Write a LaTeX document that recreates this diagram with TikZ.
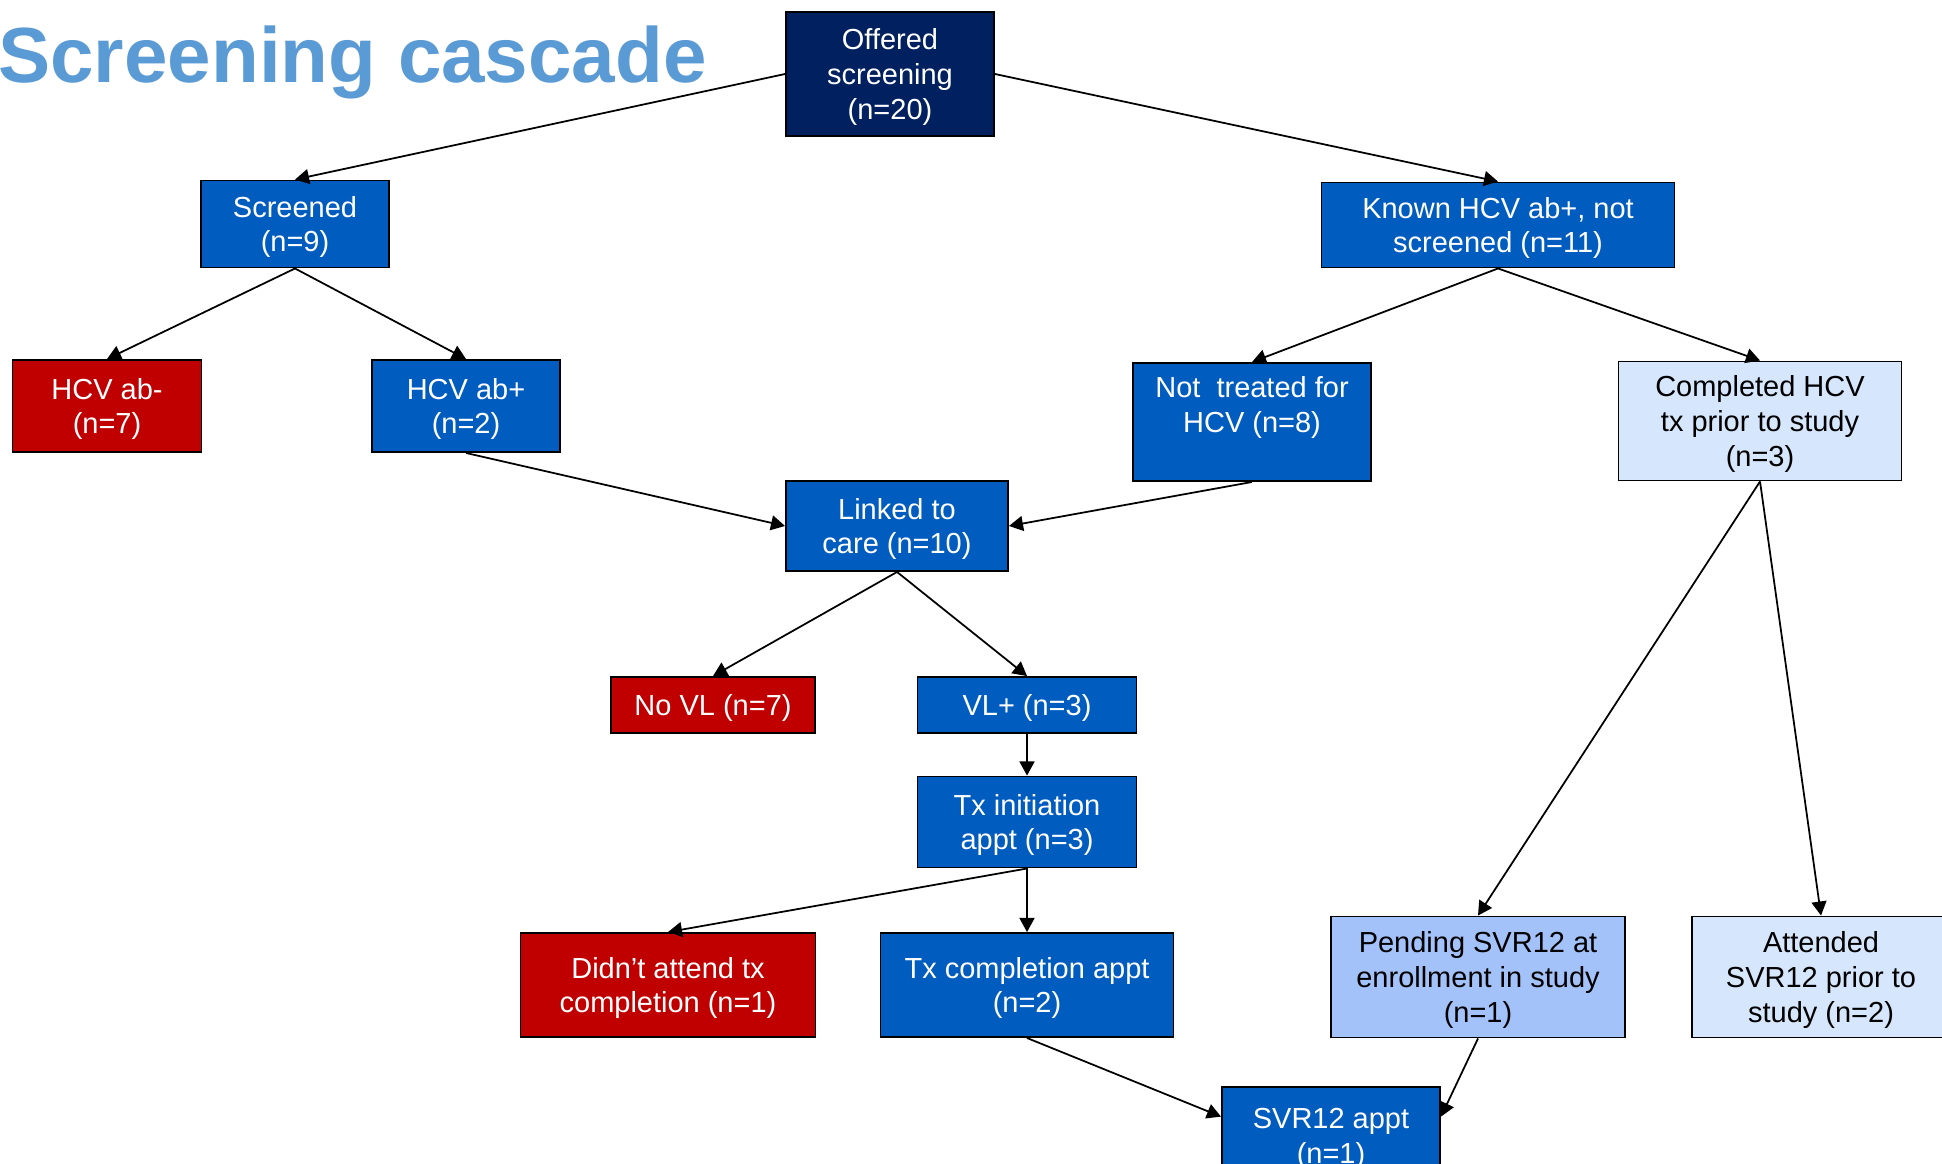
\documentclass[tikz,border=0pt]{standalone}
\usepackage{fontspec}
\setmainfont{Liberation Sans}
\usetikzlibrary{arrows.meta}

\definecolor{navybox}{RGB}{0,32,96}
\definecolor{bluebox}{RGB}{0,92,190}
\definecolor{redbox}{RGB}{192,0,0}
\definecolor{midbox}{RGB}{164,194,250}
\definecolor{palebox}{RGB}{214,230,252}
\definecolor{titleblue}{RGB}{91,155,213}

\tikzset{
  box/.style={draw=black, line width=1.1pt, rectangle, align=center, inner sep=0pt,
    font=\fontsize{16.5}{19.8}\selectfont, text depth=-6pt},
  wh/.style 2 args={minimum width=#1*0.02cm, minimum height=#2*0.02cm},
  navy/.style={box, fill=navybox, text=white},
  blue/.style={box, fill=bluebox, text=white},
  red/.style={box, fill=redbox, text=white},
  mid/.style={box, fill=midbox, text=black},
  pale/.style={box, fill=palebox, text=black},
  arr/.style={-{Triangle[length=8pt,width=8.5pt]}, line width=1pt},
}

\begin{document}
\begin{tikzpicture}[x=0.02cm, y=-0.02cm]
    \clip (0,0) rectangle (1942,1163);
    \fill[white] (0,0) rectangle (1942,1163);

    \node[anchor=base west, inner sep=0pt, text=titleblue,
      font=\fontsize{44.5}{50}\selectfont\bfseries] (title) at (-2,82) {Screening cascade};

    % top
    \node[navy, wh={208}{124}] (offered) at (890,74) {Offered\\screening\\(n=20)};
    \node[blue, wh={188}{87}] (screened) at (295,224) {Screened\\(n=9)};
    \node[blue, wh={353}{85}] (known) at (1498,225) {Known HCV ab+, not\\screened (n=11)};

    % second row
    \node[red, wh={189}{92}] (abneg) at (107,406) {HCV ab-\\(n=7)};
    \node[blue, wh={188}{92}] (abpos) at (466,406) {HCV ab+\\(n=2)};
    \node[blue, wh={238}{118}] (nottx) at (1252,422) {Not\ \ treated for\\HCV (n=8)\\\vphantom{()}};
    \node[pale, wh={283}{119}] (done) at (1760,421) {Completed HCV\\tx prior to study\\(n=3)};

    % middle
    \node[blue, wh={222}{90}] (linked) at (897,526) {Linked to\\care (n=10)};
    \node[red, wh={204}{56}] (novl) at (713,705) {No VL (n=7)};
    \node[blue, wh={219}{56}] (vlpos) at (1027,705) {VL+ (n=3)};
    \node[blue, wh={219}{91}] (txinit) at (1027,822) {Tx initiation\\appt (n=3)};

    % bottom
    \node[red, wh={295}{104}] (missed) at (668,985) {Didn’t attend tx\\completion (n=1)};
    \node[blue, wh={293}{104}] (txdone) at (1027,985) {Tx completion appt\\(n=2)};
    \node[mid, wh={294}{121}] (pending) at (1478,977) {Pending SVR12 at\\enrollment in study\\(n=1)};
    \node[pale, wh={258}{121}] (attended) at (1821,977) {Attended\\SVR12 prior to\\study (n=2)};
    \node[blue, wh={218}{98}] (svr) at (1331,1136) {SVR12 appt\\(n=1)};

    \draw[arr] (offered.west) -- (screened.north);
    \draw[arr] (offered.east) -- (known.north);
    \draw[arr] (screened.south) -- (abneg.north);
    \draw[arr] (screened.south) -- (abpos.north);
    \draw[arr] (known.south) -- (nottx.north);
    \draw[arr] (known.south) -- (done.north);
    \draw[arr] (abpos.south) -- (linked.west);
    \draw[arr] (nottx.south) -- (linked.east);
    \draw[arr] (linked.south) -- (novl.north);
    \draw[arr] (linked.south) -- (vlpos.north);
    \draw[arr] (vlpos.south) -- (txinit.north);
    \draw[arr] (txinit.south) -- (missed.north);
    \draw[arr] (txinit.south) -- (txdone.north);
    \draw[arr] (txdone.south) -- (svr.170);
    \draw[arr] (pending.south) -- (svr.10);
    \draw[arr] (done.south) -- (pending.north);
    \draw[arr] (done.south) -- (attended.north);
\end{tikzpicture}
\end{document}
